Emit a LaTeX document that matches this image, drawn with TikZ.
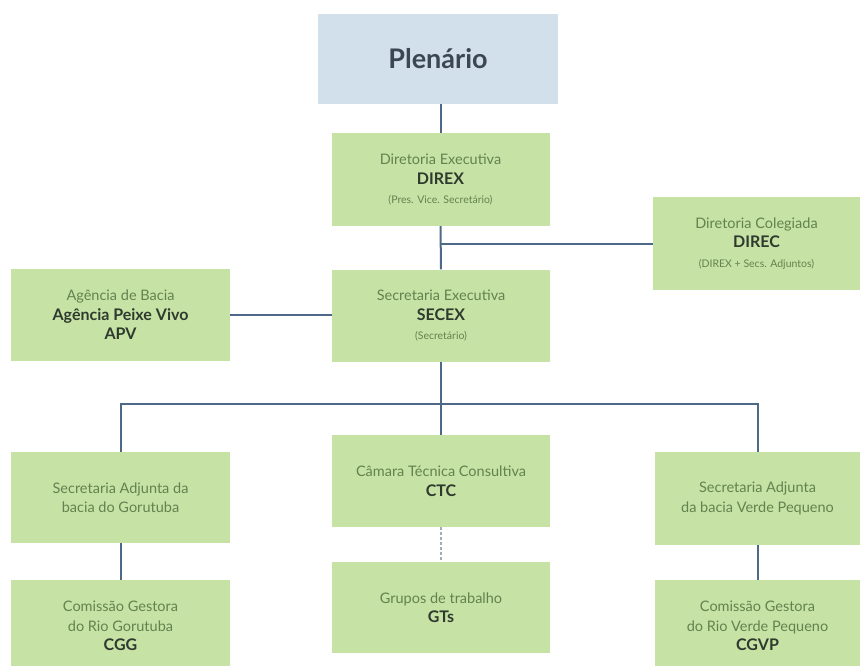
\documentclass[tikz,border=0pt]{standalone}
\usepackage{fontspec}
\setmainfont{Lato}
\usetikzlibrary{positioning,calc}
\definecolor{plfill}{HTML}{D2E0EB}
\definecolor{pltext}{HTML}{3B4754}
\definecolor{grfill}{HTML}{C7E2A5}
\definecolor{grtext}{HTML}{62824F}
\definecolor{bdtext}{HTML}{2E3A2E}
\definecolor{lncol}{HTML}{4E6987}
\newcommand{\bd}[1]{{\fontsize{16}{19}\selectfont\bfseries\color{bdtext}#1}}
\newcommand{\sm}[1]{{\fontsize{10.5}{19}\selectfont #1}}

\begin{document}
\begin{tikzpicture}[x=1pt,y=-1pt,
      box/.style={fill=grfill,minimum width=218pt,minimum height=92pt,align=center,
        inner sep=2pt,text=grtext,font=\fontsize{14.5}{19.5}\selectfont},
      link/.style={line width=2pt,draw=lncol}]
    \clip (0,0) rectangle (862,665);
    \fill[white] (0,0) rectangle (862,665);
    % top
    \node[fill=plfill,minimum width=240pt,minimum height=90pt,text=pltext,
      font=\fontsize{27}{30}\selectfont\bfseries] (plen) at (438,59) {Plenário};
    \node[box,minimum height=93pt] (direx) at (440.5,179.5)
      {Diretoria Executiva\\\bd{DIREX}\\\sm{(Pres. Vice. Secretário)}};
    \node[box,minimum width=207pt,minimum height=93pt] (direc) at (756.5,243.5)
      {Diretoria Colegiada\\\bd{DIREC}\\\sm{(DIREX + Secs. Adjuntos)}};
    \node[box] (secex) at (441,315.5)
      {Secretaria Executiva\\\bd{SECEX}\\\sm{(Secretário)}};
    \node[box,minimum width=219pt] (apv) at (120.5,315)
      {Agência de Bacia\\\bd{Agência Peixe Vivo}\\\bd{APV}};
    % bottom row
    \node[box] (ctc) at (441,481)
      {Câmara Técnica Consultiva\\\bd{CTC}};
    \node[box,minimum height=91pt] (gts) at (441,607.5)
      {Grupos de trabalho\\\bd{GTs}};
    \node[box,minimum width=219pt,minimum height=91pt] (sag) at (120.5,497.5)
      {Secretaria Adjunta da\\bacia do Gorutuba};
    \node[box,minimum width=219pt] (cgg) at (120.5,626)
      {Comissão Gestora\\do Rio Gorutuba\\\bd{CGG}};
    \node[box,minimum width=205pt,minimum height=93pt] (savp) at (757.5,498.5)
      {Secretaria Adjunta\\da bacia Verde Pequeno};
    \node[box,minimum width=205pt] (cgvp) at (757.5,626)
      {Comissão Gestora\\do Rio Verde Pequeno\\\bd{CGVP}};
    % links
    \coordinate (jd) at (direx.south |- direc.west);
    \coordinate (bus) at ($(secex.south)+(0,42)$);
    \draw[link] (plen.south -| direx.north) -- (direx.north);
    \draw[link] (direx.south) -- (secex.north);
    \draw[link] (jd) -- (direc.west);
    \draw[link] (apv.east) -- (apv.east -| secex.west);
    \draw[link] (secex.south) -- (ctc.north);
    \draw[link] (sag.north) |- (bus) -| (savp.north);
    \draw[link] (sag.south) -- (cgg.north);
    \draw[link] (savp.south) -- (cgvp.north);
    \draw[link,line width=1.2pt,draw=lncol!55,densely dashed] (ctc.south) -- (gts.north);
  \end{tikzpicture}
\end{document}
